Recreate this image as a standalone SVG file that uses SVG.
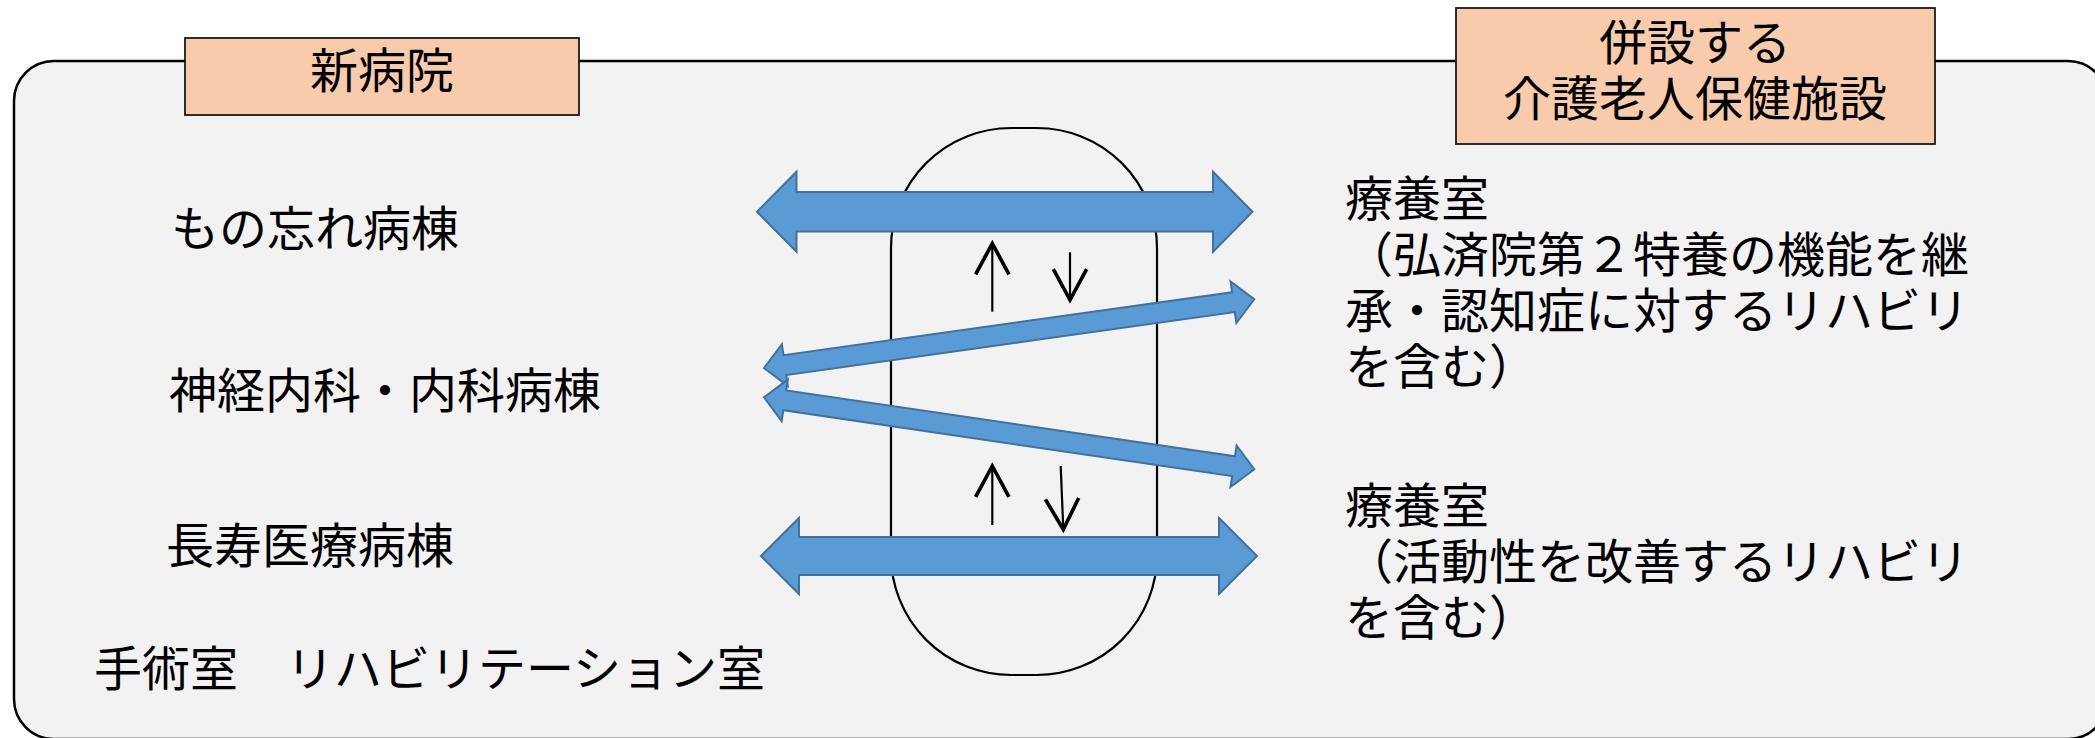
<svg xmlns="http://www.w3.org/2000/svg" width="2095" height="738" viewBox="0 0 2095 738">
<style>
.t{font-family:"Noto Sans CJK JP","Noto Sans CJK SC",sans-serif;font-size:48px;fill:#000}
.c{text-anchor:middle}
.lbl{fill:#F8CBAD;stroke:#1a1a1a;stroke-width:1.8}
.big{fill:#5B9BD5;stroke:#41719C;stroke-width:2;stroke-linejoin:miter}
.thin{fill:none;stroke:#000;stroke-width:2.2;marker-end:url(#ah)}
</style>
<defs>
<marker id="ah" markerUnits="userSpaceOnUse" markerWidth="40" markerHeight="40" viewBox="-20 -12 22 24" refX="0" refY="0" orient="auto" overflow="visible">
<path d="M-18.5,-10 L0,0 L-18.5,10" fill="none" stroke="#000" stroke-width="2.2" stroke-linejoin="miter"/>
</marker>
</defs>
<g id="frame">
<rect x="14" y="61" width="2094" height="678" rx="40" ry="40" fill="#F2F2F2" stroke="#000" stroke-width="2.5"/>
</g>
<g id="new-hospital-label">
<rect class="lbl" x="185" y="38" width="394" height="77"/>
<text class="t c" x="382" y="88">新病院</text>
</g>
<g id="facility-label">
<rect class="lbl" x="1456" y="8" width="479" height="136"/>
<text class="t c" x="1695" y="60">併設する<tspan x="1695" dy="56">介護老人保健施設</tspan></text>
</g>
<g id="ward-monowasure"><text class="t" x="171" y="246">もの忘れ病棟</text></g>
<g id="ward-neuro"><text class="t" x="169" y="408">神経内科・内科病棟</text></g>
<g id="ward-longevity"><text class="t" x="166" y="563">長寿医療病棟</text></g>
<g id="ward-rooms"><text class="t" x="94" y="686">手術室　リハビリテーション室</text></g>
<g id="care-room-1">
<text class="t" x="1345" y="216">療養室<tspan x="1345" dy="56">（弘済院第２特養の機能を継</tspan><tspan x="1345" dy="56">承・認知症に対するリハビリ</tspan><tspan x="1345" dy="56">を含む）</tspan></text>
</g>
<g id="care-room-2">
<text class="t" x="1345" y="523">療養室<tspan x="1345" dy="56">（活動性を改善するリハビリ</tspan><tspan x="1345" dy="56">を含む）</tspan></text>
</g>
<g id="corridor">
<rect x="891" y="128" width="266" height="547" rx="120" ry="120" fill="none" stroke="#000" stroke-width="2.2"/>
</g>
<g id="connectors">
<polygon class="big" points="757,211.7 796.5,171.7 796.5,192 1213,192 1213,171.7 1252.5,211.7 1213,251.7 1213,231.5 796.5,231.5 796.5,251.7"/>
<polygon class="big" points="761,556 799,518 799,537 1219,537 1219,518 1257,556 1219,594 1219,575 799,575 799,594"/>
<polygon class="big" transform="translate(1009.15,333.65) rotate(-7.98)" points="-247.5,0 -226.5,-21 -226.5,-10 226.5,-10 226.5,-21 247.5,0 226.5,21 226.5,10 -226.5,10 -226.5,21"/>
<polygon class="big" transform="translate(1009.15,433.3) rotate(8.35)" points="-247.8,0 -226.8,-21 -226.8,-10 226.8,-10 226.8,-21 247.8,0 226.8,21 226.8,10 -226.8,10 -226.8,21"/>
<path class="thin" d="M992.3,311.7 L992.3,243.5"/>
<path class="thin" d="M1070,252.3 L1070,300"/>
<path class="thin" d="M992.3,525 L992.3,466"/>
<path class="thin" d="M1060.7,466 L1063.3,529.5"/>
</g>
</svg>
